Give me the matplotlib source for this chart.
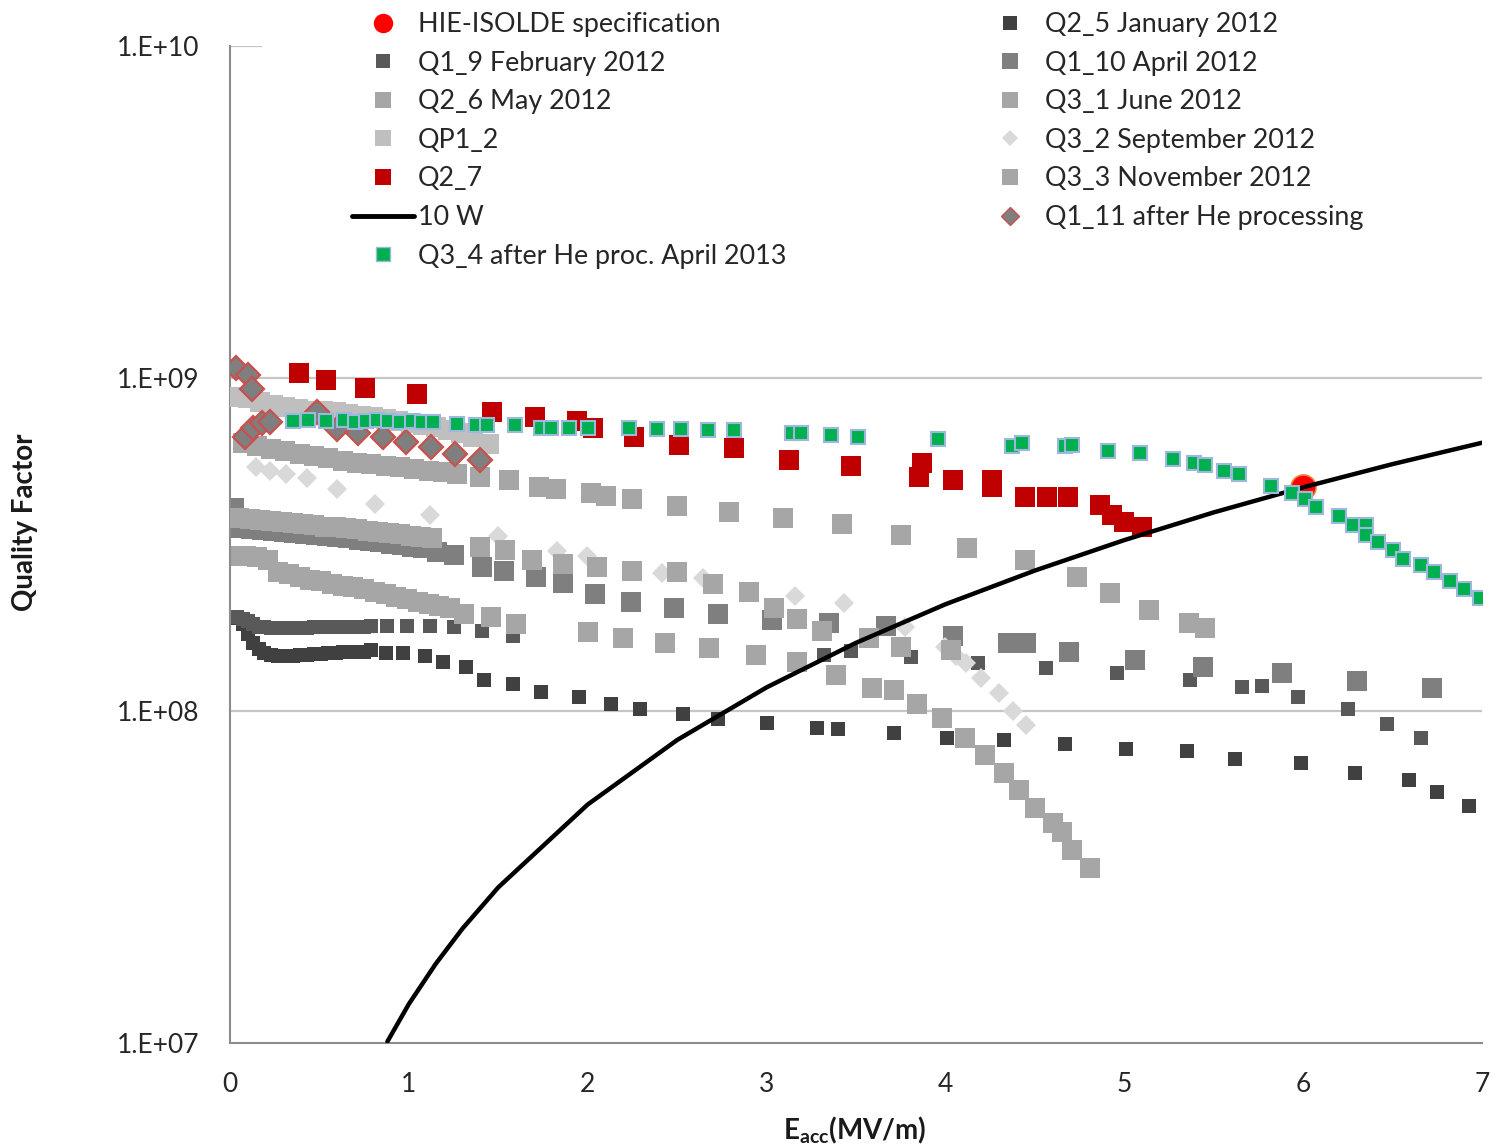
import matplotlib
matplotlib.use('Agg')
import matplotlib.pyplot as plt
from matplotlib.lines import Line2D
from matplotlib.ticker import FixedLocator, NullLocator

plt.rcParams['font.family'] = ['Lato', 'DejaVu Sans']
plt.rcParams['mathtext.fontset'] = 'custom'
plt.rcParams['mathtext.rm'] = 'Lato'
plt.rcParams['mathtext.bf'] = 'Lato:bold'
plt.rcParams['mathtext.it'] = 'Lato:italic'

# ---------------- data (E in MV/m, Q) ----------------
hie_E = [6.0]
hie_Q = [4.7e8]

q25_E = [0.04, 0.07, 0.10, 0.13, 0.16, 0.19, 0.23, 0.27, 0.31, 0.35, 0.39, 0.43, 0.47, 0.51,
         0.55, 0.59, 0.63, 0.67, 0.71, 0.75, 0.79, 0.87, 0.97, 1.09, 1.19, 1.32, 1.42, 1.58,
         1.74, 1.95, 2.13, 2.29, 2.53, 2.73, 3.00, 3.28, 3.40, 3.71, 4.01, 4.33, 4.67, 5.01,
         5.35, 5.62, 5.99, 6.29, 6.59, 6.75, 6.93]
q25_Q = [1.90e8, 1.82e8, 1.70e8, 1.60e8, 1.53e8, 1.49e8, 1.47e8, 1.46e8, 1.46e8, 1.46e8,
         1.47e8, 1.47e8, 1.48e8, 1.48e8, 1.49e8, 1.49e8, 1.50e8, 1.50e8, 1.50e8, 1.50e8,
         1.52e8, 1.49e8, 1.49e8, 1.46e8, 1.40e8, 1.35e8, 1.24e8, 1.20e8, 1.14e8, 1.10e8,
         1.05e8, 1.01e8, 9.79e7, 9.46e7, 9.20e7, 8.88e7, 8.82e7, 8.58e7, 8.29e7, 8.17e7,
         7.95e7, 7.69e7, 7.57e7, 7.16e7, 6.96e7, 6.51e7, 6.20e7, 5.71e7, 5.17e7]

q19_E = [0.04, 0.07, 0.10, 0.13, 0.16, 0.19, 0.23, 0.27, 0.31, 0.35, 0.39, 0.43, 0.47, 0.51,
         0.55, 0.59, 0.63, 0.67, 0.71, 0.75, 0.79, 0.88, 0.99, 1.12, 1.25, 1.41, 1.58, 3.32,
         3.47, 3.81, 4.18, 4.56, 4.96, 5.37, 5.66, 5.77, 5.97, 6.25, 6.47, 6.66]
q19_Q = [1.91e8, 1.89e8, 1.86e8, 1.82e8, 1.79e8, 1.78e8, 1.77e8, 1.77e8, 1.77e8, 1.77e8,
         1.77e8, 1.77e8, 1.78e8, 1.78e8, 1.78e8, 1.78e8, 1.79e8, 1.79e8, 1.79e8, 1.79e8,
         1.80e8, 1.80e8, 1.80e8, 1.80e8, 1.78e8, 1.74e8, 1.68e8, 1.47e8, 1.51e8, 1.45e8,
         1.39e8, 1.34e8, 1.30e8, 1.24e8, 1.18e8, 1.19e8, 1.10e8, 1.01e8, 9.11e7, 8.27e7]

q110_E = [0.02, 0.06, 0.12, 0.18, 0.24, 0.30, 0.36, 0.42, 0.48, 0.54, 0.60, 0.66, 0.72, 0.78,
          0.84, 0.90, 0.96, 1.02, 1.08, 1.16, 1.25, 1.41, 1.53, 1.71, 1.86, 2.04, 2.24, 2.48,
          2.73, 3.03, 3.35, 3.67, 4.04, 4.35, 4.45, 4.69, 5.06, 5.44, 5.88, 6.30, 6.72]
q110_Q = [4.06e8, 3.54e8, 3.51e8, 3.49e8, 3.47e8, 3.45e8, 3.42e8, 3.40e8, 3.38e8, 3.35e8,
          3.32e8, 3.30e8, 3.27e8, 3.24e8, 3.21e8, 3.18e8, 3.15e8, 3.11e8, 3.08e8, 3.00e8,
          2.94e8, 2.70e8, 2.64e8, 2.52e8, 2.42e8, 2.25e8, 2.13e8, 2.03e8, 1.95e8, 1.87e8,
          1.83e8, 1.80e8, 1.68e8, 1.60e8, 1.60e8, 1.50e8, 1.42e8, 1.35e8, 1.30e8, 1.23e8,
          1.17e8]

q26_E = [0.07, 0.15, 0.23, 0.31, 0.39, 0.47, 0.55, 0.63, 0.71, 0.79, 0.87, 0.95, 1.03, 1.11,
         1.19, 1.27, 1.40, 1.56, 1.73, 1.82, 2.02, 2.10, 2.25, 2.50, 2.79, 3.09, 3.42, 3.75,
         4.12, 4.445, 4.735, 4.92, 5.14, 5.36, 5.45]
q26_Q = [6.37e8, 6.24e8, 6.14e8, 6.04e8, 5.94e8, 5.85e8, 5.74e8, 5.65e8, 5.58e8, 5.52e8,
         5.46e8, 5.40e8, 5.34e8, 5.27e8, 5.21e8, 5.16e8, 5.04e8, 4.93e8, 4.70e8, 4.63e8,
         4.51e8, 4.44e8, 4.32e8, 4.12e8, 3.95e8, 3.81e8, 3.64e8, 3.37e8, 3.08e8, 2.84e8,
         2.52e8, 2.26e8, 2.01e8, 1.84e8, 1.77e8]

q31_E = [0.03, 0.09, 0.15, 0.21, 0.27, 0.33, 0.39, 0.45, 0.51, 0.57, 0.63, 0.69, 0.75, 0.81,
         0.87, 0.93, 0.99, 1.05, 1.11, 1.17, 1.23, 1.31, 1.46, 1.60, 2.00, 2.20, 2.43, 2.68,
         2.94, 3.17, 3.39, 3.59, 3.71, 3.84, 3.98, 4.11, 4.22, 4.33, 4.41, 4.50, 4.60, 4.65,
         4.71, 4.81]
q31_Q = [2.93e8, 2.91e8, 2.89e8, 2.85e8, 2.62e8, 2.57e8, 2.52e8, 2.48e8, 2.45e8, 2.41e8,
         2.38e8, 2.35e8, 2.32e8, 2.28e8, 2.24e8, 2.20e8, 2.17e8, 2.13e8, 2.09e8, 2.06e8,
         2.03e8, 1.96e8, 1.91e8, 1.82e8, 1.72e8, 1.66e8, 1.60e8, 1.54e8, 1.47e8, 1.40e8,
         1.28e8, 1.17e8, 1.15e8, 1.05e8, 9.48e7, 8.26e7, 7.35e7, 6.49e7, 5.77e7, 5.09e7,
         4.59e7, 4.31e7, 3.80e7, 3.36e7]

qp12_E = [0.03, 0.10, 0.17, 0.24, 0.31, 0.38, 0.45, 0.52, 0.59, 0.66, 0.73, 0.80, 0.87, 0.94,
          1.01, 1.08, 1.15, 1.22, 1.29, 1.36, 1.45]
qp12_Q = [8.8e8, 8.7e8, 8.5e8, 8.3e8, 8.2e8, 8.1e8, 8.0e8, 7.95e8, 7.9e8, 7.8e8, 7.7e8,
          7.65e8, 7.55e8, 7.45e8, 7.35e8, 7.25e8, 7.15e8, 7.0e8, 6.85e8, 6.65e8, 6.35e8]

q32_E = [0.145, 0.224, 0.313, 0.43, 0.598, 0.811, 1.118, 1.498, 1.828, 1.996, 2.415, 2.645,
         3.159, 3.433, 3.774, 4.00, 4.06, 4.115, 4.20, 4.30, 4.38, 4.45]
q32_Q = [5.40e8, 5.28e8, 5.14e8, 5.00e8, 4.63e8, 4.20e8, 3.87e8, 3.35e8, 3.02e8, 2.91e8,
         2.59e8, 2.50e8, 2.22e8, 2.11e8, 1.78e8, 1.55e8, 1.46e8, 1.39e8, 1.25e8, 1.13e8,
         9.95e7, 9.06e7]

q27_E = [0.386, 0.537, 0.755, 1.045, 1.465, 1.705, 1.94, 2.03, 2.26, 2.51, 2.82, 3.125, 3.47,
         3.87, 3.85, 4.04, 4.26, 4.26, 4.445, 4.57, 4.685, 4.864, 4.93, 5.00, 5.10]
q27_Q = [1.035e9, 9.86e8, 9.33e8, 8.95e8, 7.90e8, 7.63e8, 7.42e8, 7.07e8, 6.65e8, 6.29e8,
         6.16e8, 5.66e8, 5.43e8, 5.55e8, 5.04e8, 4.93e8, 4.93e8, 4.70e8, 4.38e8, 4.38e8,
         4.38e8, 4.15e8, 3.87e8, 3.69e8, 3.56e8]

q33_E = [0.05, 0.11, 0.17, 0.23, 0.29, 0.35, 0.41, 0.47, 0.53, 0.59, 0.65, 0.71, 0.77, 0.83,
         0.89, 0.95, 1.01, 1.07, 1.13, 1.40, 1.54, 1.69, 1.86, 2.05, 2.25, 2.50, 2.70, 2.90,
         3.04, 3.17, 3.31, 3.57, 3.75, 4.03]
q33_Q = [3.79e8, 3.77e8, 3.75e8, 3.72e8, 3.69e8, 3.66e8, 3.64e8, 3.61e8, 3.58e8, 3.56e8,
         3.54e8, 3.51e8, 3.48e8, 3.45e8, 3.42e8, 3.39e8, 3.36e8, 3.33e8, 3.30e8, 3.10e8,
         3.04e8, 2.84e8, 2.77e8, 2.70e8, 2.64e8, 2.61e8, 2.40e8, 2.27e8, 2.04e8, 1.89e8,
         1.74e8, 1.66e8, 1.55e8, 1.52e8]

w10_E = [0.88, 1.0, 1.15, 1.3, 1.5, 2.0, 2.5, 3.0, 3.5, 4.0, 4.5, 5.0, 5.5, 6.0, 6.5, 7.0]
w10_Q = [1.01e7, 1.31e7, 1.73e7, 2.21e7, 2.94e7, 5.22e7, 8.16e7, 1.175e8, 1.60e8, 2.09e8,
         2.64e8, 3.26e8, 3.95e8, 4.70e8, 5.52e8, 6.40e8]

q111_E = [0.034, 0.10, 0.123, 0.084, 0.129, 0.179, 0.224, 0.486, 0.598, 0.716, 0.855, 0.984,
          1.124, 1.258, 1.398]
q111_Q = [1.072e9, 1.021e9, 9.27e8, 6.65e8, 7.07e8, 7.32e8, 7.37e8, 7.90e8, 7.02e8, 6.83e8,
          6.65e8, 6.42e8, 6.20e8, 5.90e8, 5.66e8]

q34_E = [0.352, 0.436, 0.537, 0.637, 0.699, 0.760, 0.822, 0.883, 0.95, 1.018, 1.073, 1.135,
         1.269, 1.375, 1.437, 1.593, 1.739, 1.795, 1.895, 2.00, 2.23, 2.39, 2.52, 2.67, 2.82,
         3.14, 3.19, 3.36, 3.51, 3.96, 4.37, 4.43, 4.67, 4.71, 4.91, 5.09, 5.27, 5.39, 5.45,
         5.56, 5.64, 5.82, 5.94, 6.01, 6.07, 6.20, 6.28, 6.35, 6.35, 6.42, 6.50, 6.56, 6.66,
         6.73, 6.82, 6.90, 6.99]
q34_Q = [7.42e8, 7.48e8, 7.42e8, 7.48e8, 7.37e8, 7.42e8, 7.48e8, 7.42e8, 7.37e8, 7.42e8,
         7.37e8, 7.37e8, 7.31e8, 7.26e8, 7.26e8, 7.26e8, 7.11e8, 7.11e8, 7.07e8, 7.07e8,
         7.07e8, 7.02e8, 7.02e8, 6.98e8, 6.98e8, 6.83e8, 6.83e8, 6.74e8, 6.65e8, 6.55e8,
         6.24e8, 6.37e8, 6.24e8, 6.29e8, 6.03e8, 5.95e8, 5.70e8, 5.55e8, 5.47e8, 5.25e8,
         5.14e8, 4.73e8, 4.51e8, 4.33e8, 4.10e8, 3.84e8, 3.61e8, 3.63e8, 3.37e8, 3.21e8,
         3.04e8, 2.86e8, 2.75e8, 2.62e8, 2.46e8, 2.32e8, 2.19e8]

x_ticks = [0, 1, 2, 3, 4, 5, 6, 7]
y_ticks = [1e7, 1e8, 1e9, 1e10]
y_tick_labels = ['1.E+07', '1.E+08', '1.E+09', '1.E+10']

# ---------------- figure ----------------
W, H = 1492, 1148
fig = plt.figure(figsize=(W / 100, H / 100), dpi=100)
fig.patch.set_facecolor('white')
ax = fig.add_axes([230 / W, 1 - 1043 / H, (1482 - 230) / W, (1043 - 46) / H])
ax.set_yscale('log')
ax.set_xlim(0, 7)
ax.set_ylim(1e7, 1e10)

grid_c = '#c6c6c6'
for yv in [1e8, 1e9]:
    ax.axhline(yv, color=grid_c, lw=1.6, zorder=0.5)
ax.axhline(1e10, xmax=0.025, color=grid_c, lw=1.6, zorder=0.5)

for s in ['top', 'right']:
    ax.spines[s].set_visible(False)
for s in ['left', 'bottom']:
    ax.spines[s].set_color('#8c8c8c')
    ax.spines[s].set_linewidth(1.5)

ax.xaxis.set_major_locator(FixedLocator(x_ticks))
ax.set_xticklabels([str(v) for v in x_ticks])
ax.yaxis.set_major_locator(FixedLocator(y_ticks))
ax.yaxis.set_minor_locator(NullLocator())
ax.set_yticklabels(y_tick_labels)
ax.tick_params(axis='both', length=0, labelsize=19, labelcolor='#262626')
ax.tick_params(axis='y', pad=22)
ax.tick_params(axis='x', pad=21)

def series(E, Q, marker, ms, fc, z, ec='none', mew=0.0):
    ax.plot(E, Q, linestyle='none', marker=marker, ms=ms, mfc=fc, mec=ec, mew=mew, zorder=z)

# Excel series order
series(hie_E, hie_Q, 'o', 18, '#ff0000', 2.0, ec='#f08030', mew=1.2)
series(q25_E, q25_Q, 's', 10, '#404040', 2.1)
series(q19_E, q19_Q, 's', 10, '#595959', 2.2)
series(q110_E, q110_Q, 's', 14, '#7f7f7f', 2.3)
series(q26_E, q26_Q, 's', 14, '#a6a6a6', 2.4)
series(q31_E, q31_Q, 's', 14, '#a6a6a6', 2.5)
series(qp12_E, qp12_Q, 's', 14, '#bfbfbf', 2.6)
series(q32_E, q32_Q, 'D', 10, '#d9d9d9', 2.7)
series(q27_E, q27_Q, 's', 14, '#c00000', 2.8)
series(q33_E, q33_Q, 's', 14, '#a6a6a6', 2.9)
ax.plot(w10_E, w10_Q, color='black', lw=3.2, zorder=3.0, solid_capstyle='round')
series(q111_E, q111_Q, 'D', 12, '#7f7f7f', 3.1, ec='#c9504d', mew=1.6)
series(q34_E, q34_Q, 's', 10, '#00b050', 3.2, ec='#9db8dc', mew=1.5)

# ---------------- legends ----------------
def mk(marker, ms, fc, ec='none', mew=0.0):
    return Line2D([], [], linestyle='none', marker=marker, ms=ms, mfc=fc, mec=ec, mew=mew)

h1 = [mk('o', 14, '#ff0000'), mk('s', 10, '#595959'), mk('s', 11.5, '#a6a6a6'),
      mk('s', 11.5, '#bfbfbf'), mk('s', 12, '#c00000'),
      Line2D([], [], color='black', lw=3.5, solid_capstyle='round'),
      mk('s', 10, '#00b050', ec='#9db8dc', mew=1.0)]
l1 = ['HIE-ISOLDE specification', 'Q1_9 February 2012', 'Q2_6 May 2012', 'QP1_2', 'Q2_7',
      '10 W', 'Q3_4 after He proc. April 2013']
h2 = [mk('s', 10, '#404040'), mk('s', 11.5, '#7f7f7f'), mk('s', 11.5, '#a6a6a6'),
      mk('D', 8, '#d9d9d9'), mk('s', 11.5, '#a6a6a6'),
      mk('D', 9, '#7f7f7f', ec='#c9504d', mew=1.0)]
l2 = ['Q2_5 January 2012', 'Q1_10 April 2012', 'Q3_1 June 2012', 'Q3_2 September 2012',
      'Q3_3 November 2012', 'Q1_11 after He processing']

leg_kw = dict(loc='upper left', bbox_transform=fig.transFigure, frameon=False, fontsize=19.4,
              handlelength=2.3, handletextpad=0.15, labelspacing=0.505, borderpad=0,
              borderaxespad=0, labelcolor='#262626')
leg1 = ax.legend(h1, l1, bbox_to_anchor=(352 / W, 1 - 12 / H), **leg_kw)
ax.add_artist(leg1)
leg2 = ax.legend(h2, l2, bbox_to_anchor=(979 / W, 1 - 12 / H), **leg_kw)

# ---------------- axis titles ----------------
fig.text(25 / W, 1 - 522 / H, 'Quality Factor', rotation=90, ha='center', va='center',
         fontsize=20, fontweight='bold', color='#1a1a1a')
fig.text(855 / W, 1 - 1130 / H, r'$\mathbf{E_{acc}}$(MV/m)', ha='center', va='center',
         fontsize=20, fontweight='bold', color='#1a1a1a')

fig.savefig('out.png', dpi=100, facecolor='white')
